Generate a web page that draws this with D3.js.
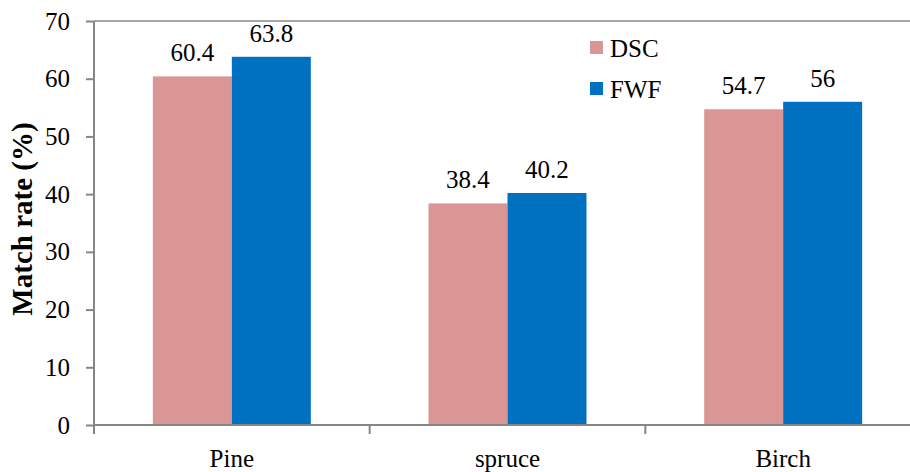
<html>
<head>
    <title>Match rate</title>
    <style>
        body { margin: 0; background: #fff; }
        svg text { font-family: "Liberation Serif", "Times New Roman", serif !important; }
    </style>
</head>
<body>
    <div id="viz"></div>
    <script src="https://d3js.org/d3.v7.min.js"></script>
    <script>
        var categories = ['Pine', 'spruce', 'Birch'];
        var seriesNames = ['DSC', 'FWF'];
        var dscValues = [60.4, 38.4, 54.7];
        var fwfValues = [63.8, 40.2, 56];
        var yTicks = [0, 10, 20, 30, 40, 50, 60, 70];
        var colors = ['#D99694', '#0070C0'];

        var width = 910;
        var height = 472;
        var plotLeft = 94, plotTop = 21, plotBottom = 425, plotRight = 921;
        var serif = "'Liberation Serif', 'Times New Roman', serif";

        var svg = d3.select('#viz')
            .append('svg')
            .attr('width', width)
            .attr('height', height)
            .style('font-family', serif);

        var x = d3.scaleBand()
            .domain(categories)
            .range([plotLeft, plotRight])
            .paddingInner(0)
            .paddingOuter(0);

        var inner = d3.scaleBand()
            .domain(seriesNames)
            .range([0, x.bandwidth()])
            .paddingOuter(0.745)
            .paddingInner(0);

        var y = d3.scaleLinear()
            .domain([0, 70])
            .range([plotBottom, plotTop]);

        var rows = categories.map(function (c, i) {
            return { cat: c, vals: [dscValues[i], fwfValues[i]] };
        });

        // top border line
        svg.append('line')
            .attr('x1', plotLeft).attr('x2', width)
            .attr('y1', y(70)).attr('y2', y(70))
            .attr('stroke', '#a6a6a6').attr('stroke-width', 2);

        // bars
        var g = svg.selectAll('g.cat')
            .data(rows)
            .enter()
            .append('g')
            .attr('class', 'cat')
            .attr('transform', function (d) { return 'translate(' + x(d.cat) + ',0)'; });

        g.selectAll('rect')
            .data(function (d) { return d.vals; })
            .enter()
            .append('rect')
            .attr('x', function (d, i) { return inner(seriesNames[i]); })
            .attr('width', inner.bandwidth())
            .attr('y', function (d) { return y(d); })
            .attr('height', function (d) { return y(0) - y(d); })
            .attr('fill', function (d, i) { return colors[i]; });

        g.selectAll('text.lbl')
            .data(function (d) { return d.vals; })
            .enter()
            .append('text')
            .attr('class', 'lbl')
            .attr('x', function (d, i) { return inner(seriesNames[i]) + inner.bandwidth() / 2; })
            .attr('y', function (d) { return y(d) - 15; })
            .attr('text-anchor', 'middle')
            .style('font-family', serif)
            .style('font-size', '25px')
            .attr('fill', '#000')
            .text(function (d) { return d; });

        // y axis
        var yAxis = svg.append('g')
            .attr('transform', 'translate(' + plotLeft + ',0)')
            .call(d3.axisLeft(y).tickValues(yTicks).tickSize(8).tickPadding(16));
        yAxis.attr('font-family', null).attr('font-size', null);
        yAxis.selectAll('.domain, .tick line').attr('stroke', '#868686').attr('stroke-width', 2);
        yAxis.select('.domain').attr('d', 'M0,' + plotTop + 'V' + plotBottom);
        yAxis.selectAll('.tick text')
            .style('font-size', '25px')
            .style('font-family', serif)
            .attr('fill', '#000');

        // x axis
        var xAxis = svg.append('g')
            .attr('transform', 'translate(0,' + plotBottom + ')')
            .call(d3.axisBottom(x).tickSize(0).tickPadding(24));
        xAxis.attr('font-family', null).attr('font-size', null);
        xAxis.select('.domain').attr('stroke', '#868686').attr('stroke-width', 2)
            .attr('d', 'M' + plotLeft + ',0H' + width);
        xAxis.selectAll('.tick text')
            .style('font-size', '25px')
            .style('font-family', serif)
            .attr('fill', '#000');
        xAxis.selectAll('line.sep')
            .data(categories)
            .enter()
            .append('line')
            .attr('class', 'sep')
            .attr('x1', function (d) { return x(d); })
            .attr('x2', function (d) { return x(d); })
            .attr('y1', 0).attr('y2', 9)
            .attr('stroke', '#868686').attr('stroke-width', 2);

        // y title
        svg.append('text')
            .attr('transform', 'translate(32,' + 219 + ') rotate(-90)')
            .attr('text-anchor', 'middle')
            .style('font-family', serif)
            .style('font-size', '29px')
            .attr('font-weight', 'bold')
            .attr('fill', '#000')
            .text('Match rate (%)');

        // legend
        var legend = svg.append('g').attr('transform', 'translate(590,41)');
        var items = legend.selectAll('g')
            .data(seriesNames)
            .enter()
            .append('g')
            .attr('transform', function (d, i) { return 'translate(0,' + (i * 41) + ')'; });
        items.append('rect')
            .attr('width', 13).attr('height', 13)
            .attr('fill', function (d, i) { return colors[i]; });
        items.append('text')
            .attr('x', 20).attr('y', 16)
            .style('font-family', serif)
            .style('font-size', '25px')
            .attr('fill', '#000')
            .text(function (d) { return d; });
    </script>
</body>
</html>
